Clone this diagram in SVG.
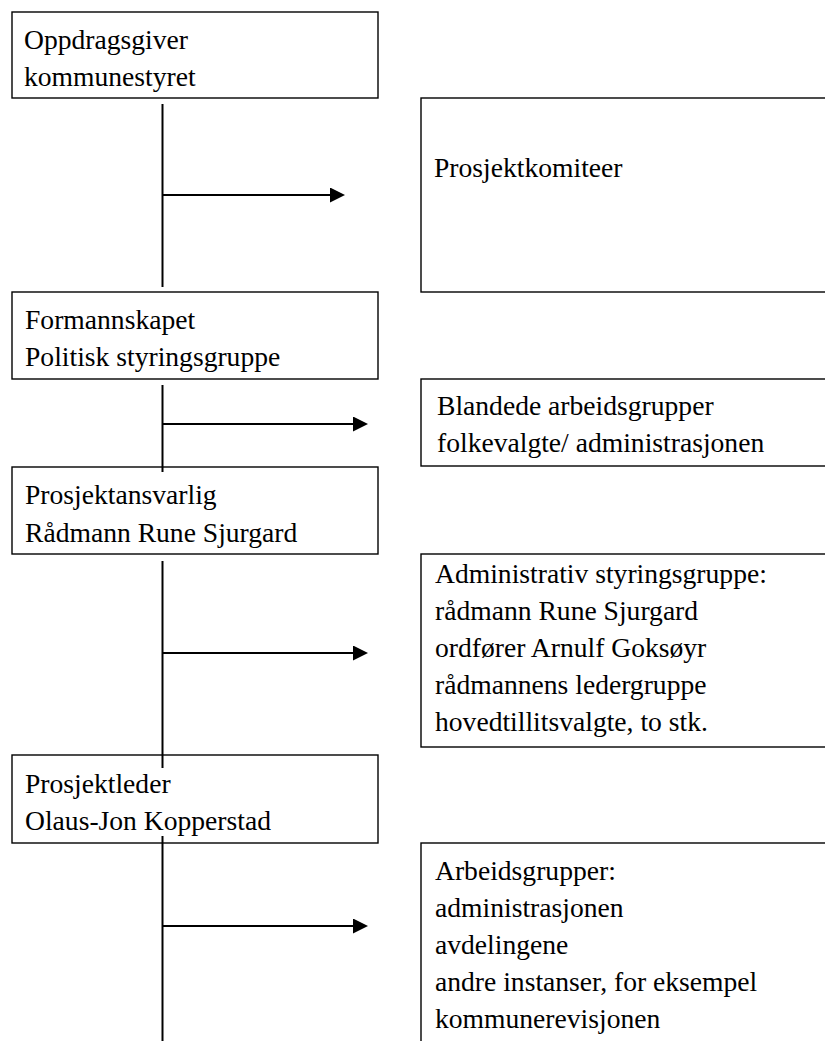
<svg xmlns="http://www.w3.org/2000/svg" width="825" height="1041" viewBox="0 0 825 1041">
<style>
.box{fill:#fff;stroke:#000;stroke-width:1.4}
.t{font-family:"Liberation Serif","Times New Roman",serif;font-size:27.6px;fill:#000}
.ln{stroke:#000;stroke-width:2;fill:none}
</style>
<defs>
<marker id="ah" markerUnits="userSpaceOnUse" markerWidth="16" markerHeight="16" refX="0" refY="7.5" orient="auto">
<path d="M0,0 L15,7.5 L0,15 z" fill="#000"/>
</marker>
</defs>
<rect width="825" height="1041" fill="#fff"/>
<g id="n1">
<rect class="box" x="12" y="12" width="366" height="86"/>
<text class="t" x="24" y="49">Oppdragsgiver</text>
<text class="t" x="24" y="86">kommunestyret</text>
</g>
<g id="r1">
<rect class="box" x="421" y="98" width="410" height="194"/>
<text class="t" x="434" y="177">Prosjektkomiteer</text>
</g>
<g id="n2">
<rect class="box" x="12" y="292" width="366" height="87"/>
<text class="t" x="25" y="329">Formannskapet</text>
<text class="t" x="25" y="366">Politisk styringsgruppe</text>
</g>
<g id="r2">
<rect class="box" x="421" y="379" width="410" height="87"/>
<text class="t" x="437" y="415">Blandede arbeidsgrupper</text>
<text class="t" x="437" y="452">folkevalgte/ administrasjonen</text>
</g>
<g id="n3">
<rect class="box" x="12" y="467" width="366" height="87"/>
<text class="t" x="25" y="504">Prosjektansvarlig</text>
<text class="t" x="25" y="542">Rådmann Rune Sjurgard</text>
</g>
<g id="r3">
<rect class="box" x="421" y="554" width="410" height="193"/>
<text class="t" x="435" y="583">Administrativ styringsgruppe:</text>
<text class="t" x="435" y="620">rådmann Rune Sjurgard</text>
<text class="t" x="435" y="657">ordfører Arnulf Goksøyr</text>
<text class="t" x="435" y="694">rådmannens ledergruppe</text>
<text class="t" x="435" y="731">hovedtillitsvalgte, to stk.</text>
</g>
<g id="n4">
<rect class="box" x="12" y="755" width="366" height="88"/>
<text class="t" x="25" y="793">Prosjektleder</text>
<text class="t" x="25" y="830">Olaus-Jon Kopperstad</text>
</g>
<g id="r4">
<rect class="box" x="421" y="843" width="410" height="210"/>
<text class="t" x="435" y="880">Arbeidsgrupper:</text>
<text class="t" x="435" y="917">administrasjonen</text>
<text class="t" x="435" y="954">avdelingene</text>
<text class="t" x="435" y="991">andre instanser, for eksempel</text>
<text class="t" x="435" y="1028">kommunerevisjonen</text>
</g>
<g id="connectors">
<line class="ln" x1="162.5" y1="104" x2="162.5" y2="287"/>
<line class="ln" x1="162.5" y1="385" x2="162.5" y2="472"/>
<line class="ln" x1="162.5" y1="561" x2="162.5" y2="768"/>
<line class="ln" x1="162.5" y1="836" x2="162.5" y2="1041"/>
<line class="ln" x1="162.5" y1="195" x2="330" y2="195" marker-end="url(#ah)"/>
<line class="ln" x1="162.5" y1="424" x2="353" y2="424" marker-end="url(#ah)"/>
<line class="ln" x1="162.5" y1="653" x2="353" y2="653" marker-end="url(#ah)"/>
<line class="ln" x1="162.5" y1="926" x2="353" y2="926" marker-end="url(#ah)"/>
</g>
</svg>
